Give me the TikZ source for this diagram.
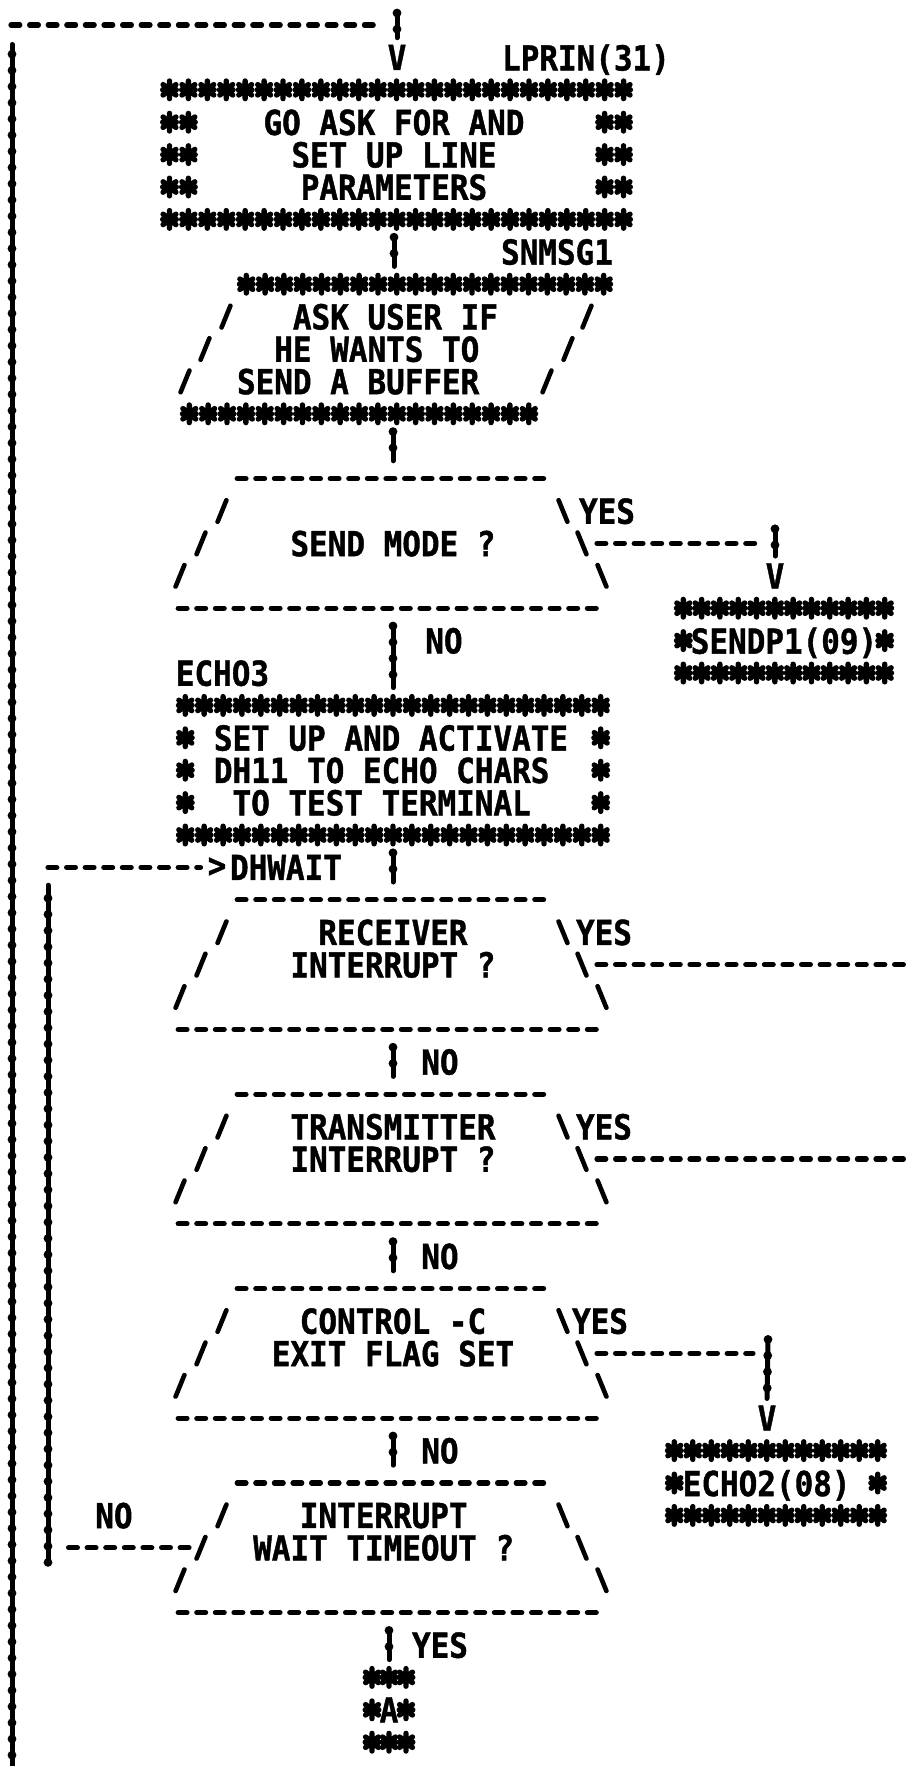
\documentclass[tikz,border=0pt]{standalone}
\usepackage{fontspec}
\usetikzlibrary{decorations.markings}
\newfontfamily\plotfont{DejaVu Sans Mono}[FakeStretch=0.9, BoldFeatures={FakeBold=1.2}]

\begin{document}
\begin{tikzpicture}[x=0.5pt, y=-16.2pt]
    % Style definitions: plotter text, boxes and decisions
    \tikzset{txt/.style={font=\plotfont\bfseries\fontsize{17.2}{16.2}\selectfont, inner sep=0pt, text depth=0pt},
             chartbox/.style={txt, align=center, minimum height=75.8pt, outer xsep=0pt, outer ysep=3.4pt},
             decision/.style={chartbox, minimum width=204pt},
             smallbox/.style={txt, minimum height=43.4pt, outer xsep=0pt, outer ysep=3.4pt},
             astk/.pic={\draw[line width=2.7pt, line cap=round] (0pt,-4.4pt) -- (0pt,4.4pt)
                           (-3.2pt,-2.6pt) -- (3.2pt,2.6pt) (-3.2pt,2.6pt) -- (3.2pt,-2.6pt)
                           (-3.4pt,0pt) -- (3.4pt,0pt);},
             decframe/.pic={\draw[hline] (237.2,0) -- (547.8,0);
                             \draw[hline] (178.2,4) -- (605.8,4);
                             \foreach \xx/\rw in {222/1,201/2,180/3}
                                 \draw[penline] ([shift={(-2.2pt,-5.4pt)}]\xx,\rw) -- ++(4.4pt,10.8pt);
                             \foreach \xx/\rw in {563/1,582/2,602/3}
                                 \draw[penline] ([shift={(-2.2pt,5.4pt)}]\xx,\rw) -- ++(4.4pt,-10.8pt);}}
    \tikzstyle{hline} = [line width=2.6pt, line cap=round, dash pattern=on 4.4pt off 4.9pt]
    \tikzstyle{vline} = [line width=2.5pt, line cap=round, postaction={decorate},
                         decoration={markings, mark=between positions 0 and 1 step 8.1pt with {\fill (0pt,0pt) circle (2.2pt);}}]
    \tikzstyle{penline} = [line width=2.3pt, line cap=round]

    \useasboundingbox (0,-0.772) rectangle (907,53.735);

    % Main boxes
    \node[chartbox, minimum width=236.5pt] (params) at (394,4) {GO ASK FOR AND\\SET UP LINE\\PARAMETERS};
    \node[chartbox, align=left] (ask) at (367.5,10) {\hphantom{XXX}ASK USER IF\\\hphantom{XX}HE WANTS TO\\SEND A BUFFER};
    \node[decision] (sendq) at (393,16) {SEND MODE ?};
    \node[smallbox, minimum width=110pt] (sendp) at (784,19) {SENDP1(09)};
    \node[chartbox, align=left, minimum width=217pt] (echoset) at (391,23) {SET UP AND ACTIVATE\\DH11 TO ECHO CHARS\\\hphantom{X}TO TEST TERMINAL};
    \node[decision] (recv) at (393,29) {RECEIVER\\INTERRUPT ?\\\mbox{}};
    \node[decision] (xmit) at (393,35) {TRANSMITTER\\INTERRUPT ?\\\mbox{}};
    \node[decision] (ctrlc) at (393,41) {CONTROL -C\\EXIT FLAG SET\\\mbox{}};
    \node[smallbox, minimum width=111pt] (echo2) at (776,45) {ECHO2(08)\hphantom{X}};
    \node[decision] (waitq) at (393,47) {INTERRUPT\hphantom{X}\\WAIT TIMEOUT ?\hphantom{X}\\\mbox{}};
    \node[smallbox, minimum width=28pt] (conA) at (389,52) {A};

    % Labels, V and > heads
    \node[txt] (vtop) at (397,1) {V};
    \node[txt] (lprin) at (586,1) {LPRIN(31)};
    \node[txt] (snmsg) at (557,7) {SNMSG1};
    \node[txt] (sendyes) at (607,15) {YES};
    \node[txt] (sendv) at (775,17) {V};
    \node[txt] (sendno) at (444,19) {NO};
    \node[txt] (echolbl) at (222.5,20) {ECHO3};
    \node[txt] (gt) at (217,26) {>};
    \node[txt] (dhwait) at (286,26) {DHWAIT};
    \node[txt] (recvyes) at (604,28) {YES};
    \node[txt] (recvno) at (440,32) {NO};
    \node[txt] (xmityes) at (604,34) {YES};
    \node[txt] (xmitno) at (440,38) {NO};
    \node[txt] (ctrlyes) at (600,40) {YES};
    \node[txt] (echov) at (767,43) {V};
    \node[txt] (ctrlno) at (440,44) {NO};
    \node[txt] (waitno) at (114,46) {NO};
    \node[txt] (waityes) at (440,50) {YES};

    % Asterisk borders
    \foreach \i in {0,...,24} {
        \pic at ({169.5+18.92*\i},2) {astk};
        \pic at ({169.5+18.92*\i},6) {astk};
    }
    \foreach \rw in {3,4,5}
        \foreach \xx in {169.5,188.4,604.6,623.5}
            \pic at (\xx,\rw) {astk};
    \foreach \i in {0,...,19} \pic at ({246.3+18.81*\i},8) {astk};
    \foreach \i in {0,...,18} \pic at ({189.3+18.86*\i},12) {astk};
    \foreach \xx/\rw in {226/9,205/10,185/11,587/9,568/10,547/11}
        \draw[penline] ([shift={(-2.2pt,-5.4pt)}]\xx,\rw) -- ++(4.4pt,10.8pt);
    \foreach \i in {0,...,22} {
        \pic at ({185.3+18.88*\i},21) {astk};
        \pic at ({185.3+18.88*\i},25) {astk};
    }
    \foreach \rw in {22,23,24} {
        \pic at (185.3,\rw) {astk};
        \pic at (600.7,\rw) {astk};
    }
    \foreach \i in {0,...,11} {
        \pic at ({683.3+18.31*\i},18) {astk};
        \pic at ({683.3+18.31*\i},20) {astk};
        \pic at ({674.3+18.49*\i},44) {astk};
        \pic at ({674.3+18.49*\i},46) {astk};
    }
    \pic at (683.3,19) {astk};
    \pic at (884.7,19) {astk};
    \pic at (674.3,45) {astk};
    \pic at (877.7,45) {astk};
    \foreach \xx in {372,389,406} {
        \pic at (\xx,51) {astk};
        \pic at (\xx,53) {astk};
    }
    \pic at (372,52) {astk};
    \pic at (406,52) {astk};

    % Decision outlines
    \foreach \rw in {14,27,33,39,45}
        \pic at (0,\rw) {decframe};

    % Loop coming back in at the top
    \coordinate (loopin) at (12,53.9);
    \coordinate (loopup) at (12,0.6);
    \coordinate (loopcorner) at (11,0);
    \coordinate (topturn) at (397,0);
    \draw[vline] (loopin) -- (loopup);
    \draw[hline, shorten >=9.5pt] (loopcorner) -- (topturn);
    \draw[vline] ([yshift=6pt]topturn) -- ([yshift=3.4pt]vtop.north);

    % Main flow
    \draw[vline] (params.south) -- (params.south |- ask.north);
    \draw[vline] (sendq.north |- ask.south) -- (sendq.north);
    \draw[vline] (sendq.south) -- (sendq.south |- echoset.north);
    \draw[vline] (recv.north |- echoset.south) -- (recv.north);
    \draw[vline] (recv.south) -- (xmit.north);
    \draw[vline] (xmit.south) -- (ctrlc.north);
    \draw[vline] (ctrlc.south) -- (waitq.north);
    \draw[vline] (conA.north |- waitq.south) -- (conA.north);

    % YES branches
    \coordinate (sendturn) at (775,16);
    \draw[hline, shorten >=9.6pt] (sendq.east) -- (sendturn);
    \draw[vline] ([yshift=7.3pt]sendturn) -- ([yshift=3.4pt]sendv.north);
    \coordinate (recvout) at (912,29);
    \draw[hline] (recv.east) -- (recvout);
    \coordinate (xmitout) at (912,35);
    \draw[hline] (xmit.east) -- (xmitout);
    \coordinate (ctrlturn) at (768,41);
    \draw[hline, shorten >=7.5pt] (ctrlc.east) -- (ctrlturn);
    \draw[vline] ([yshift=7pt]ctrlturn) -- ([yshift=3.4pt]echov.north);

    % NO loop back to DHWAIT
    \coordinate (noturn) at (48,47);
    \coordinate (upturn) at (48,26);
    \draw[hline, shorten >=8.5pt] (waitq.west) -- (noturn);
    \draw[vline] ([yshift=-7.3pt]noturn) -- ([yshift=-8.9pt]upturn);
    \draw[hline, shorten >=3.4pt] (upturn) -- (gt.west);

\end{tikzpicture}
\end{document}
